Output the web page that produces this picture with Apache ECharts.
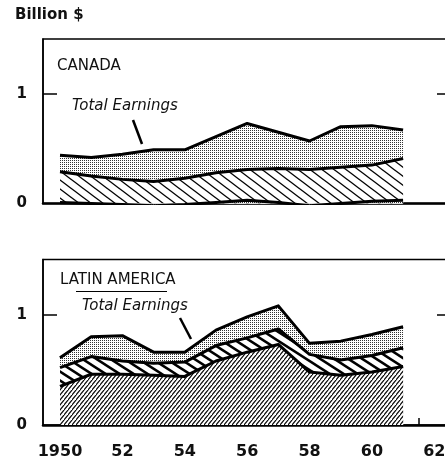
<!DOCTYPE html>
<html>
<head>
<meta charset="utf-8">
<script src="https://cdn.jsdelivr.net/npm/echarts@6/dist/echarts.min.js"></script>
<style>
html,body{margin:0;padding:0;background:#fff;}
#c{width:445px;height:462px;}
</style>
</head>
<body>
<div id="c"></div>
<script>
// ---- data (billion $) ----
var years = [1950,1951,1952,1953,1954,1955,1956,1957,1958,1959,1960,1961];
var canadaTotal  = [0.44,0.42,0.45,0.49,0.49,0.61,0.73,0.65,0.57,0.70,0.71,0.67];
var canadaMiddle = [0.29,0.25,0.22,0.20,0.23,0.28,0.31,0.32,0.31,0.33,0.35,0.41];
var canadaBase   = [0.01,0.00,-0.01,-0.02,-0.01,0.01,0.03,0.01,-0.02,0.00,0.02,0.03];
var latamTotal   = [0.61,0.80,0.81,0.66,0.66,0.86,0.98,1.08,0.74,0.76,0.82,0.89];
var latamMiddle  = [0.52,0.62,0.58,0.56,0.57,0.72,0.79,0.87,0.64,0.59,0.63,0.70];
var latamBase    = [0.35,0.46,0.46,0.45,0.44,0.58,0.66,0.73,0.48,0.45,0.48,0.53];
var xLabelYears  = [1950,1952,1954,1956,1958,1960,1962];
var xLabelTexts  = ['1950','52','54','56','58','60','62'];
var xTickYears   = [1950.5,1951.5,1952.5,1953.5,1954.5,1955.5,1956.5,1957.5,1958.5,1959.5,1960.5,1961.5];
var yLabelValues = [0,1];
var yLabelTexts  = ['0','1'];

function pairs(vals){ return years.map(function(y,i){ return [y, vals[i]]; }); }

function hatch(w,h,lw,dir){
  var c=document.createElement('canvas'); c.width=w; c.height=h;
  var g=c.getContext('2d');
  g.fillStyle='#fff'; g.fillRect(0,0,w,h);
  g.strokeStyle='#000'; g.lineWidth=lw;
  for(var k=-1;k<=1;k++){
    g.beginPath();
    if(dir==='\\'){ g.moveTo(-w,k*h-h); g.lineTo(2*w,k*h+2*h); }
    else { g.moveTo(-w,k*h+h); g.lineTo(2*w,k*h-2*h); }
    g.stroke();
  }
  return {image:c, repeat:'repeat'};
}
function dots(){
  var c=document.createElement('canvas'); c.width=2; c.height=2;
  var g=c.getContext('2d');
  g.fillStyle='#fff'; g.fillRect(0,0,2,2);
  g.fillStyle='#333'; g.fillRect(0,0,1,1);
  return {image:c, repeat:'repeat'};
}
var dotFill = dots();
var canHatch = hatch(12,9,1.3,'\\');
var laHatch = hatch(14,9,2.6,'\\');
var laDense = hatch(4,5,1.1,'/');

var XMIN=1949.455, XMAX=1962.6;
function xAx(idx, withLabels){
  return {
    type:'value', gridIndex:idx, min:XMIN, max:XMAX,
    axisLine:{show:true, onZero:false, lineStyle:{color:'#000', width:2.5}},
    splitLine:{show:false},
    axisTick: withLabels ? {show:true, inside:true, length:7, customValues:xTickYears, lineStyle:{color:'#000', width:1.5}} : {show:false},
    axisLabel: withLabels ? {
      show:true, customValues:xLabelYears, margin:19,
      color:'#111', fontFamily:'DejaVu Sans', fontWeight:'bold', fontSize:16,
      formatter:function(v){ var i=xLabelYears.indexOf(Math.round(v)); return i>=0?xLabelTexts[i]:''; }
    } : {show:false}
  };
}
function yAxL(idx){
  return {
    type:'value', gridIndex:idx, min:0, max:1.5, position:'left',
    axisLine:{show:true, lineStyle:{color:'#000', width:1.5}},
    splitLine:{show:false},
    axisTick:{show:true, inside:true, length:14, customValues:[1], lineStyle:{color:'#000', width:1.5}},
    axisLabel:{show:true, customValues:yLabelValues, margin:16, color:'#111', fontFamily:'DejaVu Sans', fontWeight:'bold', fontSize:15,
      formatter:function(v){ var i=yLabelValues.indexOf(Math.round(v*10)/10); return i>=0?yLabelTexts[i]:''; }}
  };
}
function yAxR(idx){
  return {
    type:'value', gridIndex:idx, min:0, max:1.5, position:'right',
    axisLine:{show:false}, splitLine:{show:false},
    axisTick:{show:true, inside:true, length:16, customValues:[1], lineStyle:{color:'#000', width:1.5}},
    axisLabel:{show:false}
  };
}
function ser(xi, yi, vals, fill, z){
  return {
    type:'line', xAxisIndex:xi, yAxisIndex:yi, data:pairs(vals),
    showSymbol:false, symbol:'none', z:z, animation:false,
    lineStyle:{color:'#000', width:3, join:'round'},
    areaStyle:{color:fill, opacity:1, origin:0}
  };
}

var chart = echarts.init(document.getElementById('c'), null, {renderer:'canvas'});
chart.setOption({
  backgroundColor:'#fff',
  animation:false,
  grid:[
    {left:43, width:410, top:39, height:164.5, show:true, borderColor:'#000', borderWidth:1.5, backgroundColor:'#fff', outerBoundsMode:'none', containLabel:false},
    {left:43, width:410, top:259.5, height:165.5, show:true, borderColor:'#000', borderWidth:1.5, backgroundColor:'#fff', outerBoundsMode:'none', containLabel:false}
  ],
  xAxis:[xAx(0,false), xAx(1,true)],
  yAxis:[yAxL(0), yAxR(0), yAxL(1), yAxR(1)],
  series:[
    ser(0,0,canadaTotal,dotFill,2),
    ser(0,0,canadaMiddle,canHatch,3),
    ser(0,0,canadaBase,dotFill,4),
    ser(1,2,latamTotal,dotFill,2),
    ser(1,2,latamMiddle,laHatch,3),
    ser(1,2,latamBase,laDense,4)
  ],
  graphic:[
    {type:'text', left:15, top:8, style:{text:'Billion $', font:'bold 15px "DejaVu Sans"', fill:'#111'}},
    {type:'text', left:57, top:59, style:{text:'CANADA', font:'15px "DejaVu Sans"', fill:'#111'}},
    {type:'text', left:72, top:99, style:{text:'Total Earnings', font:'italic 15px "DejaVu Sans"', fill:'#111'}},
    {type:'line', shape:{x1:133, y1:120, x2:142, y2:144}, style:{stroke:'#000', lineWidth:2.5}, z:10},
    {type:'text', left:60, top:273, style:{text:'LATIN AMERICA', font:'15px "DejaVu Sans"', fill:'#111'}},
    {type:'line', shape:{x1:76, y1:291.5, x2:167, y2:291.5}, style:{stroke:'#000', lineWidth:1}, z:10},
    {type:'text', left:82, top:299, style:{text:'Total Earnings', font:'italic 15px "DejaVu Sans"', fill:'#111'}},
    {type:'line', shape:{x1:180, y1:318, x2:191, y2:339}, style:{stroke:'#000', lineWidth:2.5}, z:10}
  ]
});
</script>
</body>
</html>
